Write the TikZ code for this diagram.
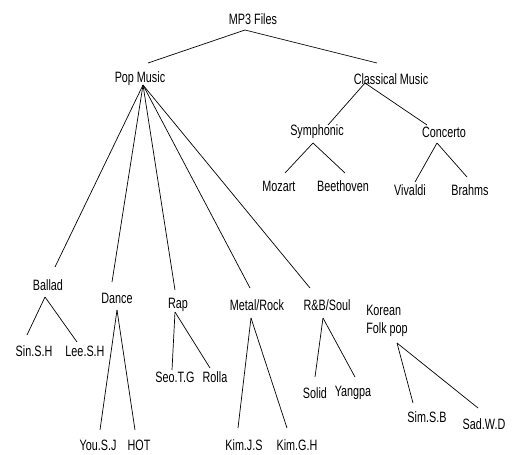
\documentclass[tikz,border=0pt]{standalone}
\usepackage{fontspec}
\setmainfont[FakeStretch=0.72]{Liberation Sans}
\usetikzlibrary{calc}

\begin{document}
\begin{tikzpicture}[x = 1pt, y = -1pt, line width = 0.7pt,
    leaf/.style = {inner sep = 0pt, font = \fontsize{15}{18}\selectfont}]
                \useasboundingbox(0,0)rectangle(515,455);
                % top levels
                \node[leaf](mp3)at(253,19){MP3 Files};
                \node[leaf](pop)at(140,79){Pop Music};
                \node[leaf](classical)at(391,79){Classical Music};
                \node[leaf](symph)at(317,132){Symphonic};
                \node[leaf](concerto)at(444,132){Concerto};
                \node[leaf](mozart)at(279,186){Mozart};
                \node[leaf](beeth)at(343,186){Beethoven};
                \node[leaf](vivaldi)at(410,190){Vivaldi};
                \node[leaf](brahms)at(470,190){Brahms};
                % genres
                \node[leaf](ballad)at(48,285){Ballad};
                \node[leaf](dance)at(117,298){Dance};
                \node[leaf](rap)at(178,305){Rap};
                \node[leaf](metal)at(257,305){Metal/Rock};
                \node[leaf](rnb)at(327,305){R\&B/Soul};
                \node[leaf, align = left](folk)at(387,321){Korean\\Folk pop};
                % singers
                \node[leaf](sin)at(34,351){Sin.S.H};
                \node[leaf](lee)at(85,351){Lee.S.H};
                \node[leaf](seo)at(175,377){Seo.T.G};
                \node[leaf](rolla)at(215,377){Rolla};
                \node[leaf](you)at(98,445){You.S.J};
                \node[leaf](hot)at(139,445){HOT};
                \node[leaf](kimjs)at(244,445){Kim.J.S};
                \node[leaf](kimgh)at(297,445){Kim.G.H};
                \node[leaf](solid)at(315,393){Solid};
                \node[leaf](yangpa)at(353,393){Yangpa};
                \node[leaf](simsb)at(427,417){Sim.S.B};
                \node[leaf](sadwd)at(484,424){Sad.W.D};
                % branches
                \path[draw]($(mp3)+(-8,11)$)to($(pop)+(8,-16)$);
                \path[draw]($(mp3)+(-8,11)$)to($(classical)+(-14,-16)$);
                \path[draw]($(classical)+(-26,4)$)to($(symph)+(11,-7)$);
                \path[draw]($(classical)+(-26,4)$)to($(concerto)+(-17,-7)$);
                \path[draw]($(symph)+(-4,11)$)to($(mozart)+(6,-13)$);
                \path[draw]($(symph)+(-4,11)$)to($(beeth)+(2,-13)$);
                \path[draw]($(concerto)+(-7,11)$)to($(vivaldi)+(5,-8)$);
                \path[draw]($(concerto)+(-7,11)$)to($(brahms)+(-3,-13)$);
                \path[draw]($(pop)+(3,6)$)to($(ballad)+(7,-18)$);
                \path[draw]($(pop)+(3,6)$)to($(dance)+(-5,-16)$);
                \path[draw]($(pop)+(3,6)$)to($(rap)+(-3,-15)$);
                \path[draw]($(pop)+(3,6)$)to($(metal)+(-7,-17)$);
                \path[draw]($(pop)+(3,6)$)to($(rnb)+(-17,-17)$);
                \path[draw]($(ballad)+(-3,12)$)to($(sin)+(-7,-16)$);
                \path[draw]($(ballad)+(-3,12)$)to($(lee)+(-8,-9)$);
                \path[draw]($(dance)+(0,12)$)to($(you)+(2,-15)$);
                \path[draw]($(dance)+(0,12)$)to($(hot)+(-4,-15)$);
                \path[draw]($(rap)+(-3,7)$)to($(seo)+(-3,-7)$);
                \path[draw]($(rap)+(-3,7)$)to($(rolla)+(-5,-9)$);
                \path[draw]($(metal)+(-6,13)$)to($(kimjs)+(-6,-17)$);
                \path[draw]($(metal)+(-6,13)$)to($(kimgh)+(-10,-17)$);
                \path[draw]($(rnb)+(-4,13)$)to($(solid)+(0,-16)$);
                \path[draw]($(rnb)+(-4,13)$)to($(yangpa)+(2,-16)$);
                \path[draw]($(folk)+(10,22)$)to($(simsb)+(-14,-14)$);
                \path[draw]($(folk)+(10,22)$)to($(sadwd)+(-6,-16)$);
            \end{tikzpicture}
\end{document}
